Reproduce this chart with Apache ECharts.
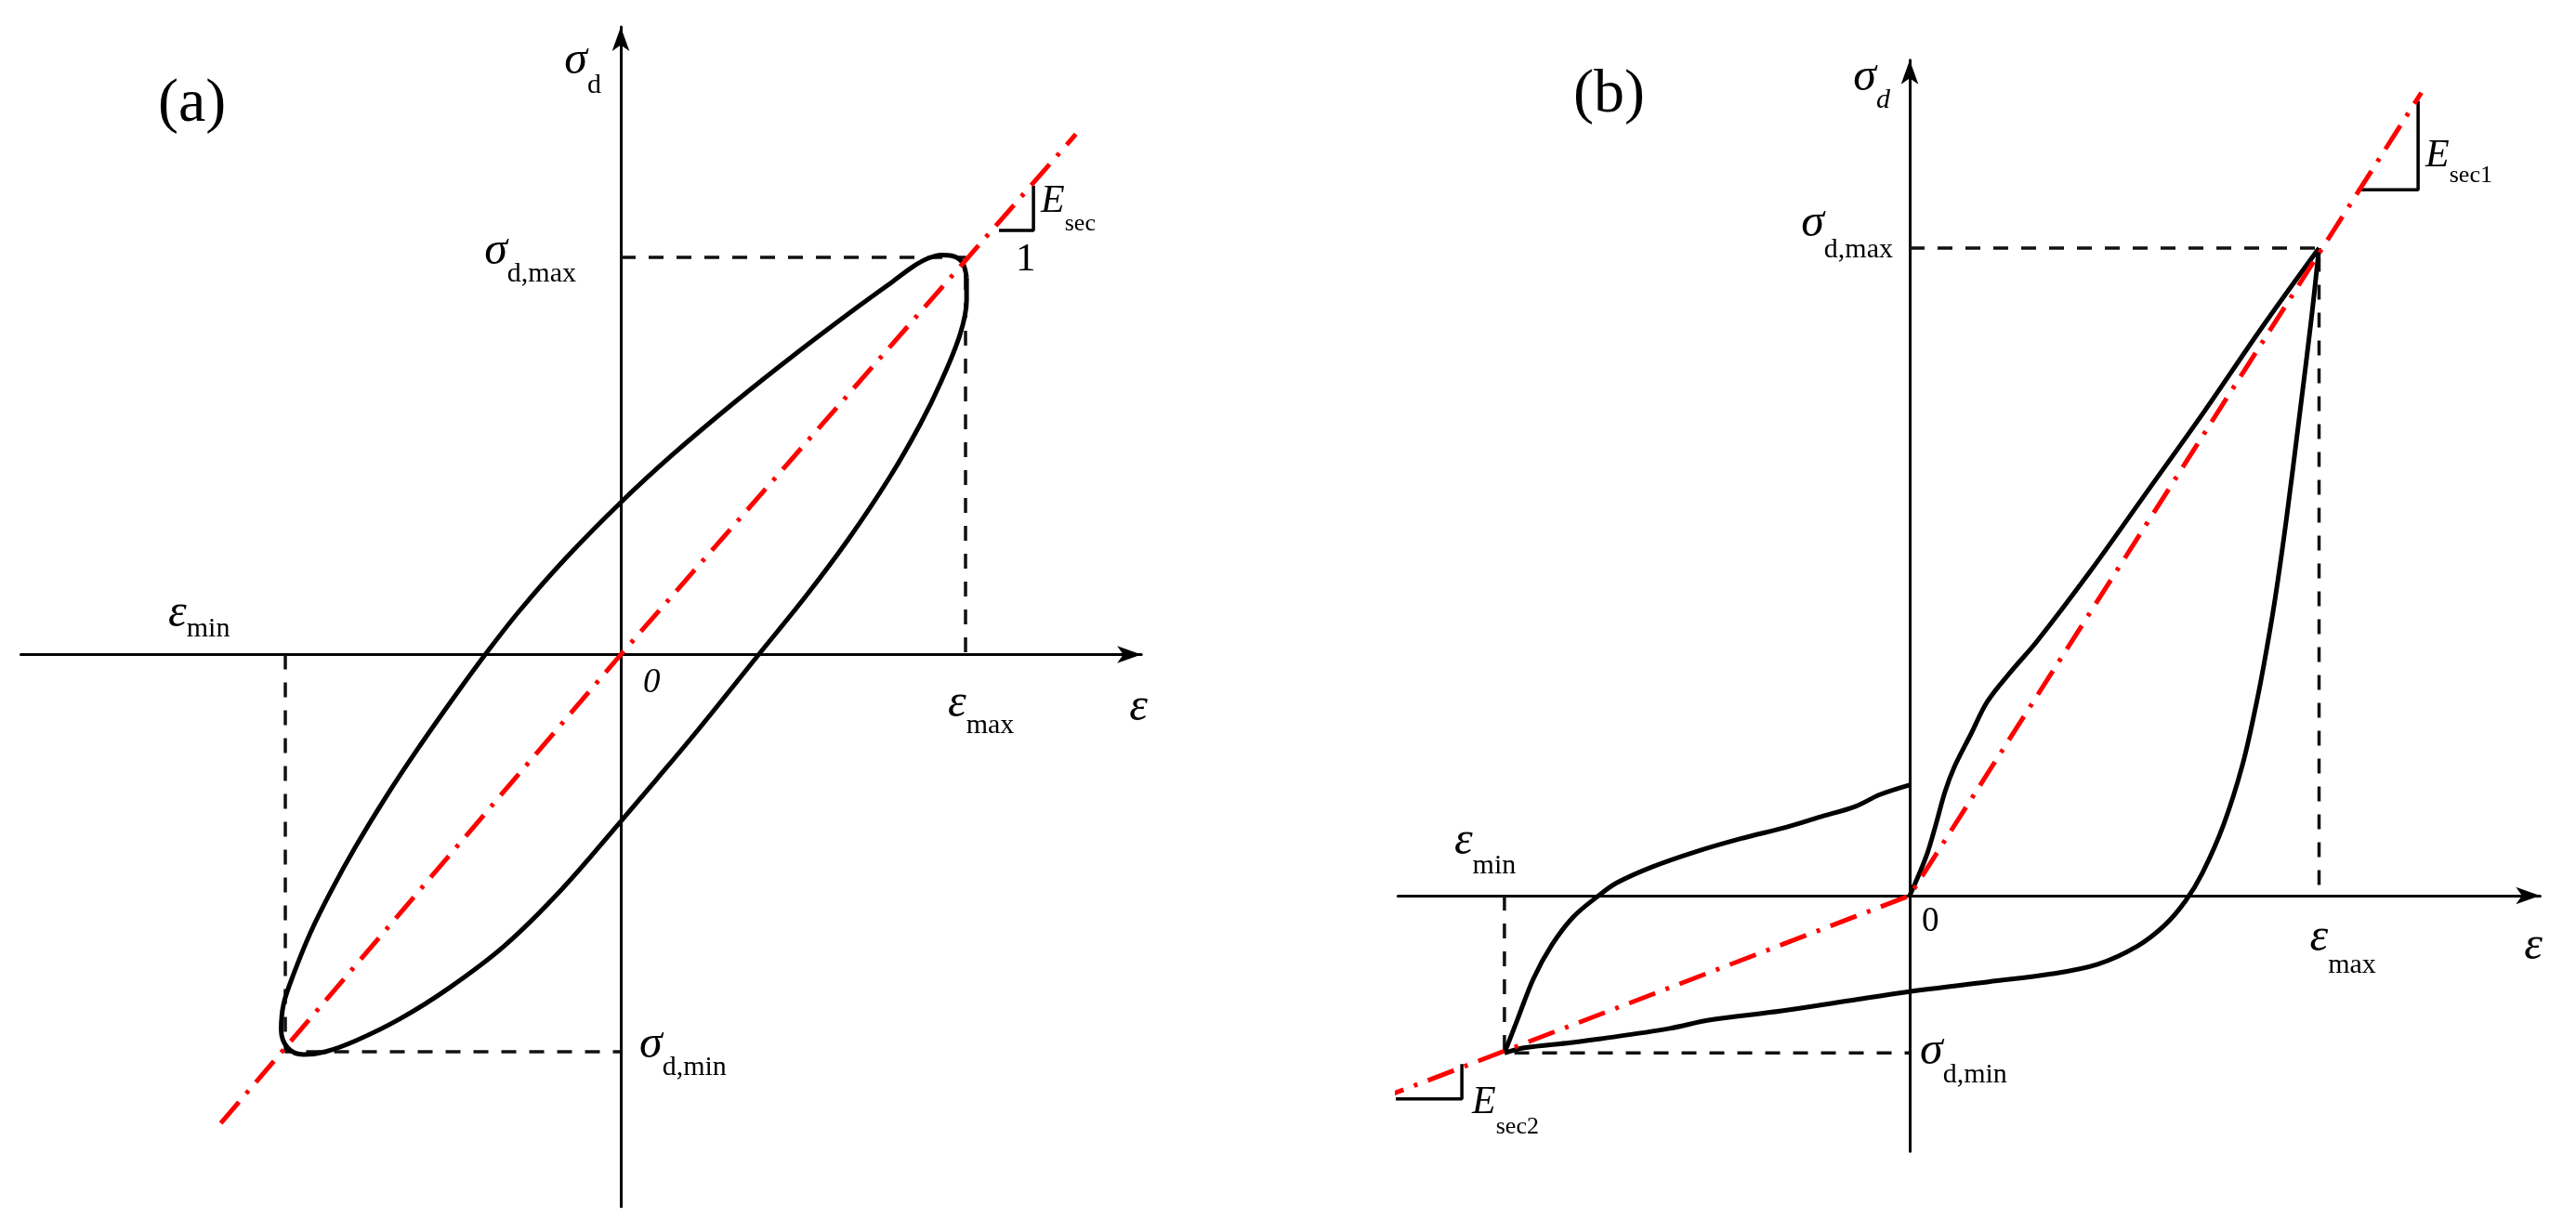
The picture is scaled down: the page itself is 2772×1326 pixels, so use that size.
<!DOCTYPE html>
<html>
<head>
<meta charset="utf-8">
<script src="https://cdn.jsdelivr.net/npm/echarts@6/dist/echarts.min.js"></script>
<style>
  html, body { margin: 0; padding: 0; background: #fff; }
  #chart { width: 2772px; height: 1326px; }
</style>
</head>
<body>
<div id="chart"></div>
<script>
// ---- panel (a): elliptical loop, strain / stress normalised to the peak ----
const epsMaxA = 1.0, sigMaxA = 1.0
const epsMinA = -0.973, sigMinA = -1.0
const loopA = [
  [1.003, 0.95], [0.99, 0.988], [0.96, 1.004], [0.93, 1.006], [0.89, 0.997], [0.85, 0.978],
  [0.79, 0.94], [0.69, 0.877], [0.51, 0.759], [0.33, 0.635], [0.15, 0.503], [0, 0.383],
  [-0.16, 0.242], [-0.29, 0.114], [-0.38, 0.015], [-0.48, -0.103], [-0.59, -0.239], [-0.68, -0.357],
  [-0.77, -0.485], [-0.84, -0.595], [-0.90, -0.70], [-0.95, -0.807], [-0.978, -0.88], [-0.985, -0.945],
  [-0.966, -0.99], [-0.92, -1.007], [-0.857, -1.0], [-0.768, -0.972], [-0.642, -0.918], [-0.499, -0.84],
  [-0.337, -0.733], [-0.17, -0.59], [0, -0.42], [0.105, -0.313], [0.221, -0.193], [0.40, 0],
  [0.536, 0.146], [0.66, 0.29], [0.779, 0.445], [0.868, 0.579], [0.93, 0.689], [0.984, 0.806],
  [1.003, 0.892], [1.003, 0.95]
]
const secantA = [[-1.16, -1.18], [0, 0], [1.32, 1.31]]
const slopeMarkA = [[1.097, 1.068], [1.197, 1.068], [1.197, 1.18]]

// ---- panel (b): asymmetric loop ----
const epsMaxB = 1.0, sigMaxB = 1.0
const epsMinB = -0.99, sigMinB = -0.243
const loadingB = [
  [0, 0], [0.04, 0.06], [0.064, 0.11], [0.086, 0.16], [0.11, 0.20], [0.15, 0.25],
  [0.19, 0.30], [0.25, 0.348], [0.31, 0.392], [0.44, 0.50], [0.57, 0.615], [0.72, 0.748],
  [0.86, 0.877], [1, 1]
]
const unloadingB = [
  [1, 1], [0.982, 0.895], [0.951, 0.735], [0.921, 0.585], [0.893, 0.46], [0.869, 0.37],
  [0.847, 0.297], [0.813, 0.202], [0.767, 0.11], [0.715, 0.035], [0.674, -0.008], [0.624, -0.045],
  [0.556, -0.078], [0.459, -0.106], [0.345, -0.121], [0.193, -0.133], [0, -0.148],
  [-0.148, -0.162], [-0.313, -0.178], [-0.488, -0.192], [-0.586, -0.205], [-0.754, -0.221],
  [-0.829, -0.227], [-0.942, -0.235], [-0.99, -0.243]
]
const reloadingB = [
  [-0.99, -0.243], [-0.958, -0.191], [-0.919, -0.128], [-0.874, -0.076], [-0.822, -0.033],
  [-0.76, 0], [-0.715, 0.02], [-0.631, 0.044], [-0.527, 0.067], [-0.413, 0.088],
  [-0.30, 0.106], [-0.222, 0.121], [-0.132, 0.138], [-0.073, 0.156], [0, 0.171]
]
const secantB = [[-1.30, -0.315], [0, 0], [1.25, 1.24]]
const slopeMark1B = [[1.094, 1.09], [1.242, 1.09], [1.242, 1.227]]
const slopeMark2B = [[-1.278, -0.314], [-1.094, -0.314], [-1.094, -0.26]]

const panelNames = ['(a)', '(b)']

// ---- layout ----
const FONT = '"Liberation Serif", "Times New Roman", serif'
const layouts = [
  { origin: [668, 704.5], unit: [371, 427.5], x: [-1.74, 1.51], y: [-1.39, 1.58] },
  { origin: [2055, 964], unit: [440.5, 697], x: [-1.25, 1.54], y: [-0.395, 1.29] }
]

function gridFor(l) {
  return {
    left: l.origin[0] + l.x[0] * l.unit[0],
    top: l.origin[1] - l.y[1] * l.unit[1],
    width: (l.x[1] - l.x[0]) * l.unit[0],
    height: (l.y[1] - l.y[0]) * l.unit[1]
  }
}

function axisFor(i, range) {
  return {
    type: 'value', gridIndex: i, min: range[0], max: range[1],
    axisLine: {
      show: true, onZero: true,
      symbol: ['none', 'arrow'], symbolSize: [14, 26],
      lineStyle: { color: '#000', width: 3 }
    },
    axisTick: { show: false },
    axisLabel: { show: false },
    splitLine: { show: false }
  }
}

function line(i, data, style, z) {
  return {
    type: 'line', xAxisIndex: i, yAxisIndex: i, data: data,
    symbol: 'none', smooth: style.smooth || false, z: z || 2,
    lineStyle: Object.assign({ color: '#000', width: 5 }, style.line),
    silent: true, animation: false
  }
}

const dashed = { line: { type: [16, 14], width: 3.5, color: '#111' } }
const red = { line: { type: [30, 12, 4, 12], width: 5, color: '#ff0000', cap: 'butt' } }
const curve = { line: { width: 5 }, smooth: 0.35 }
const thin = { line: { width: 3.5 } }

const chart = echarts.init(document.getElementById('chart'), null, { renderer: 'canvas' })

chart.setOption({
  backgroundColor: '#fff',
  animation: false,
  title: [
    { text: panelNames[0], left: 170, top: 80, padding: 0,
      textStyle: { fontFamily: FONT, fontSize: 66, fontWeight: 'normal', color: '#000' } },
    { text: panelNames[1], left: 1693, top: 70, padding: 0,
      textStyle: { fontFamily: FONT, fontSize: 66, fontWeight: 'normal', color: '#000' } }
  ],
  grid: layouts.map(gridFor),
  xAxis: layouts.map((l, i) => axisFor(i, l.x)),
  yAxis: layouts.map((l, i) => axisFor(i, l.y)),
  series: [
    line(0, [[0, sigMaxA], [epsMaxA, sigMaxA], [epsMaxA, 0]], dashed),
    line(0, [[epsMinA, 0], [epsMinA, sigMinA], [0, sigMinA]], dashed),
    line(0, loopA, curve, 3),
    line(0, secantA, red, 4),
    line(0, slopeMarkA, thin, 3),

    line(1, [[0, sigMaxB], [epsMaxB, sigMaxB], [epsMaxB, 0]], dashed),
    line(1, [[epsMinB, 0], [epsMinB, sigMinB], [0, sigMinB]], dashed),
    line(1, loadingB, curve, 3),
    line(1, unloadingB, curve, 3),
    line(1, reloadingB, curve, 3),
    line(1, secantB, red, 4),
    line(1, slopeMark1B, thin, 3),
    line(1, slopeMark2B, thin, 3)
  ]
})

// text annotations: main symbol with a lowered subscript, anchored to data points
function label(g, anchor, dx, dy, main, sub, opt) {
  opt = opt || {}
  const p = chart.convertToPixel({ gridIndex: g }, anchor)
  const fm = opt.size || 50
  const fs = opt.subSize || 30
  const drop = opt.drop == null ? 17 : opt.drop
  const pad = Math.max(0, drop - 0.16 * (fm - fs))
  return {
    type: 'text', x: p[0] + dx, y: p[1] + dy - 0.84 * fm, z: 10, silent: true,
    style: {
      text: sub ? '{m|' + main + '}{s|' + sub + '}' : '{m|' + main + '}',
      align: opt.align || 'left', verticalAlign: 'top', fill: '#000',
      rich: {
        m: { fontFamily: FONT, fontSize: fm, fontStyle: opt.upright ? 'normal' : 'italic',
             fill: '#000', padding: [0, 0, pad, 0], verticalAlign: 'bottom' },
        s: { fontFamily: FONT, fontSize: fs, fontStyle: opt.subItalic ? 'italic' : 'normal',
             fill: '#000', verticalAlign: 'bottom' }
      }
    }
  }
}

const A = layouts[0], B = layouts[1]
chart.setOption({
  graphic: [
    label(0, [0, A.y[1]], -21, 54, 'σ', 'd', { align: 'right', drop: 19 }),
    label(0, [0, sigMaxA], -48, 11, 'σ', 'd,max', { align: 'right' }),
    label(0, [epsMinA, 0], -126, -27, 'ε', 'min', { drop: 10 }),
    label(0, [0, 0], 24, 43, '0', null, { size: 37 }),
    label(0, [epsMaxA, 0], -19, 70, 'ε', 'max'),
    label(0, [A.x[1], 0], -13, 74, 'ε', null),
    label(0, [0, sigMinA], 20, 10, 'σ', 'd,min'),
    label(0, slopeMarkA[1], 8, -17, 'E', 'sec', { size: 42, subSize: 26, drop: 19 }),
    label(0, slopeMarkA[1], -19, 46, '1', null, { size: 43, upright: true }),

    label(1, [0, B.y[1]], -21, 36, 'σ', 'd', { align: 'right', subItalic: true }),
    label(1, [0, sigMaxB], -18, -9, 'σ', 'd,max', { align: 'right', drop: 21 }),
    label(1, [epsMinB, 0], -54, -41, 'ε', 'min', { drop: 19 }),
    label(1, [0, 0], 13, 41, '0', null, { size: 37, upright: true }),
    label(1, [epsMaxB, 0], -10, 63, 'ε', 'max', { drop: 22 }),
    label(1, [B.x[1], 0], -17, 72, 'ε', null),
    label(1, [0, sigMinB], 11, 15, 'σ', 'd,min', { drop: 19 }),
    label(1, slopeMark1B[1], 8, -22, 'E', 'sec1', { size: 42, subSize: 26, drop: 16 }),
    label(1, slopeMark2B[1], 11, 18, 'E', 'sec2', { size: 42, subSize: 26, drop: 21 })
  ]
})
</script>
</body>
</html>
